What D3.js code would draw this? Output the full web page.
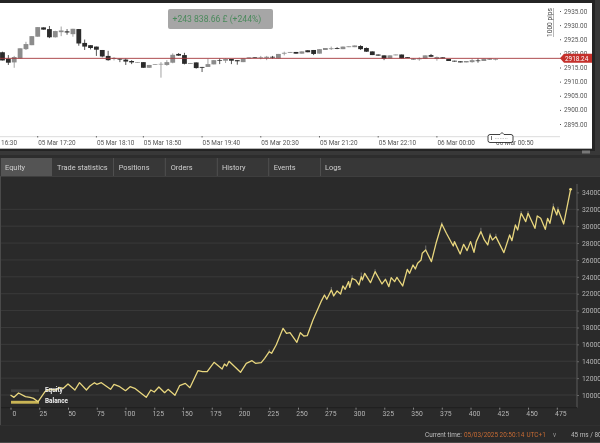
<!DOCTYPE html>
<html>
<head>
<meta charset="utf-8">
<script src="https://cdnjs.cloudflare.com/ajax/libs/d3/7.8.5/d3.min.js"></script>
<style>
  html, body { margin: 0; padding: 0; background: #2a2a2a; overflow: hidden; }
  svg { display: block; font-family: Roboto, sans-serif; filter: blur(0.35px); }
</style>
</head>
<body>
<script>
"use strict";

// candles, first one is index -6 (5 min bars)
let candleOpen = [2920.4,2918.1,2916.8,2918.2,2921.5,2922.9,2925.9,2929.2,2928.6,2925.7,2927.5,2927.8,2926.8,2928.6,2923.7,2922.9,2922.4,2921.2,2919.1,2918.0,2918.1,2917.8,2917.3,2916.7,2916.9,2914.9,2916.0,2916.1,2915.9,2916.7,2919.8,2919.4,2916.3,2916.8,2915.2,2915.2,2916.1,2917.6,2917.4,2918.0,2917.6,2916.9,2918.2,2918.6,2918.5,2918.4,2918.8,2918.2,2919.9,2920.2,2920.5,2919.9,2921.1,2921.2,2919.9,2921.2,2921.5,2921.9,2921.5,2922.2,2922.2,2922.6,2921.9,2920.7,2919.6,2919.3,2918.2,2919.3,2919.6,2918.7,2918.1,2917.9,2918.1,2919.4,2918.0,2918.6,2918.0,2917.4,2917.2,2916.8,2916.9,2917.5,2917.3,2918.1,2917.8];
let candleClose = [2917.5,2916.7,2918.7,2921.8,2923.3,2926.1,2929.3,2928.4,2925.7,2927.9,2928.1,2927.4,2928.7,2923.5,2922.4,2921.9,2921.3,2918.9,2917.6,2918.4,2917.8,2917.1,2916.8,2916.9,2914.9,2915.9,2916.2,2916.3,2916.9,2919.5,2919.2,2916.3,2916.6,2914.8,2914.9,2916.2,2917.6,2917.4,2918.0,2917.4,2917.2,2918.2,2918.6,2918.4,2918.6,2918.8,2918.5,2919.8,2920.2,2920.5,2919.9,2920.7,2920.4,2919.8,2921.5,2921.9,2921.8,2921.6,2922.4,2922.5,2922.8,2921.5,2920.6,2919.4,2919.2,2918.1,2919.3,2919.6,2918.2,2918.4,2917.9,2918.2,2919.3,2918.8,2918.7,2918.2,2917.3,2917.1,2916.8,2917.3,2917.6,2917.3,2918.1,2917.9,2918.0];
let candleHigh = [2920.6,2919.4,2919.1,2921.8,2924.1,2926.1,2929.3,2929.2,2929.7,2928.0,2929.5,2928.6,2928.7,2928.6,2924.9,2922.9,2922.4,2921.2,2920.9,2918.7,2918.1,2918.2,2917.6,2916.9,2916.9,2915.9,2916.2,2916.9,2917.6,2920.0,2920.1,2920.2,2916.6,2916.8,2915.2,2918.1,2917.6,2918.2,2918.2,2918.0,2917.6,2918.2,2918.6,2918.6,2919.1,2919.1,2919.1,2919.8,2920.6,2920.5,2920.5,2920.7,2921.1,2921.2,2921.5,2921.9,2922.4,2922.2,2922.4,2922.5,2922.8,2922.9,2922.1,2920.7,2919.6,2919.3,2919.3,2919.6,2919.6,2918.7,2918.1,2918.6,2919.3,2919.8,2918.9,2918.6,2918.0,2917.4,2917.2,2917.3,2918.1,2918.2,2918.1,2918.1,2918.1];
let candleLow = [2917.5,2915.9,2914.9,2918.2,2921.2,2922.9,2925.9,2928.4,2925.4,2925.6,2926.1,2926.6,2925.9,2922.7,2921.2,2921.4,2919.1,2918.6,2917.4,2917.5,2916.9,2915.9,2916.2,2916.7,2914.9,2914.9,2916.0,2911.4,2915.6,2916.5,2919.1,2916.1,2916.3,2914.6,2913.4,2915.2,2916.1,2916.2,2916.6,2916.2,2916.0,2916.9,2918.2,2918.4,2917.9,2917.6,2918.1,2918.2,2919.3,2920.2,2919.9,2919.9,2920.4,2919.4,2919.9,2921.2,2921.2,2921.5,2921.5,2922.2,2922.2,2921.2,2920.5,2919.4,2919.2,2917.6,2918.2,2919.3,2918.2,2918.4,2917.9,2917.4,2918.1,2918.7,2917.4,2918.2,2917.3,2917.1,2916.8,2916.8,2916.7,2916.7,2917.3,2917.9,2917.5];
let candleFirst = -6;

let priceTicks = [2935, 2930, 2925, 2920, 2915, 2910, 2905, 2900, 2895];
let timeTickIdx = [-10, 0, 10, 18, 28, 38, 48, 58, 68, 78];
let timeTickLabels = ["05 Mar 16:30", "05 Mar 17:20", "05 Mar 18:10", "05 Mar 18:50", "05 Mar 19:40", "05 Mar 20:30", "05 Mar 21:20", "05 Mar 22:10", "06 Mar 00:00", "06 Mar 00:50"];
let currentPrice = 2918.24;

let tabNames = ["Equity", "Trade statistics", "Positions", "Orders", "History", "Events", "Logs"];

// balance curve, read by trade number
let tradeIdx = [0,3,7,13,17,20,24,30,34,40,42,46,50,56,60,66,69,73,75,79,87,90,95,100,104,108,118,122,125,129,134,137,143,147,152,156,163,167,171,177,184,186,188,190,200,205,210,213,218,221,225,227,231,237,240,243,249,252,255,258,263,270,273,275,279,281,284,287,289,291,294,295,297,300,303,305,306,308,313,317,323,326,329,331,334,336,338,341,345,347,350,352,354,357,358,361,366,370,375,379,385,386,391,394,397,400,403,405,409,412,415,417,419,422,429,434,436,439,441,444,448,450,456,458,461,465,467,469,472,475,476,481,487];
let balance = [10000,9723,10237,9800,9723,9600,9210,10395,10670,10590,10900,10790,11300,10590,11460,10590,11066,11460,11263,11460,10670,11263,10987,10513,10987,10790,9723,10590,10355,10947,10276,10670,9960,11105,11380,10870,12883,12765,12765,13870,13080,13673,13436,13990,12685,13756,14065,13756,13830,14349,15131,14937,15925,17900,17311,17384,16245,17384,16990,17030,18887,21060,21850,21336,22442,21731,22323,21968,22916,22521,23430,22758,23825,23627,23035,24022,23627,24417,23311,24615,23153,23706,22837,23904,23430,23943,23509,22916,24891,24417,25404,24931,25602,25997,26787,27182,25800,27972,30263,29157,27656,28170,26708,27853,27103,28170,26905,28170,29355,28367,27774,28960,28367,28762,26866,28960,28288,30145,29552,31527,30540,31527,29750,31211,30935,29631,30935,30342,32317,31330,32000,30263,34371];

// equity runs just above balance at the peaks
let equityPeakIdx = [225,279,297,305,317,361,375,409,417,422,444,450,472,476];
let equityPeak = [15400,22800,24200,24500,24900,27700,30500,29800,29200,29100,31800,31800,32700,32300];

let equityTicks = [10000,12000,14000,16000,18000,20000,22000,24000,26000,28000,30000,32000,34000];
let gridValues = [10000,12000,14000,16000,18000,20000,22000,24000,26000,28000,30000,32000];
let tradeTicks = [0,25,50,75,100,125,150,175,200,225,250,275,300,325,350,375,400,425,450,475];

let width = 600;
let height = 443;

let svg = d3.select("body").append("svg").attr("width", width).attr("height", height);

// page blocks
svg.append("rect").attr("width", width).attr("height", height).attr("fill", "#2a2a2a");
svg.append("rect").attr("x", 0).attr("y", 0).attr("width", width).attr("height", 155).attr("fill", "#383838");
svg.append("rect").attr("x", 0).attr("y", 0).attr("width", 595).attr("height", 151).attr("fill", "#242424");
svg.append("rect").attr("x", 0).attr("y", 3).attr("width", 592).attr("height", 146).attr("fill", "#fff");
svg.append("rect").attr("x", 0).attr("y", 148).attr("width", 592).attr("height", 1).attr("fill", "#b5b5b5");
svg.append("rect").attr("x", 582).attr("y", 150.5).attr("width", 8).attr("height", 3).attr("fill", "#777");
svg.append("rect").attr("x", 0).attr("y", 155).attr("width", width).attr("height", 3).attr("fill", "#2d2d2d");
svg.append("rect").attr("x", 0).attr("y", 158).attr("width", width).attr("height", 18).attr("fill", "#373737");
svg.append("rect").attr("x", 0).attr("y", 176).attr("width", width).attr("height", 0.8).attr("fill", "#444");
svg.append("rect").attr("x", 0).attr("y", 176).attr("width", 1).attr("height", 249).attr("fill", "#4a4a4a");
svg.append("rect").attr("x", 0).attr("y", 442).attr("width", width).attr("height", 1).attr("fill", "#4a4a4a");

// ---- candle chart
let clip = svg.append("clipPath").attr("id", "top-clip");
clip.append("rect").attr("x", 0).attr("y", 3).attr("width", 592).attr("height", 145);

let topG = svg.append("g").attr("clip-path", "url(#top-clip)");

let xTime = d3.scaleLinear().domain([0, 78]).range([37.7, 495.6]);
let yPrice = d3.scaleLinear().domain([2895, 2935]).range([124, 11]);

topG.append("line")
  .attr("x1", 0).attr("x2", 560)
  .attr("y1", 136.7).attr("y2", 136.7)
  .attr("stroke", "#dcdcdc");

let candleData = candleOpen.map(function (d, i) {
  return { i: i + candleFirst, o: d, c: candleClose[i], h: candleHigh[i], l: candleLow[i] };
});

let candleColor = function (d) { return d.c >= d.o ? "#8c8c8c" : "#2b2b2b"; };

topG.selectAll(".wick")
  .data(candleData)
  .enter()
  .append("line")
    .attr("class", "wick")
    .attr("x1", function (d) { return xTime(d.i); })
    .attr("x2", function (d) { return xTime(d.i); })
    .attr("y1", function (d) { return yPrice(d.h); })
    .attr("y2", function (d) { return yPrice(d.l); })
    .attr("stroke", candleColor)
    .attr("stroke-width", 0.8);

topG.selectAll(".body")
  .data(candleData)
  .enter()
  .append("rect")
    .attr("class", "body")
    .attr("x", function (d) { return xTime(d.i) - 2.4; })
    .attr("width", 4.8)
    .attr("y", function (d) { return yPrice(Math.max(d.o, d.c)); })
    .attr("height", function (d) { return Math.max(0.7, Math.abs(yPrice(d.o) - yPrice(d.c))); })
    .attr("fill", candleColor);

topG.append("line")
  .attr("x1", 0).attr("x2", 562)
  .attr("y1", yPrice(currentPrice)).attr("y2", yPrice(currentPrice))
  .attr("stroke", "#a5383c")
  .attr("stroke-width", 0.9);

// price axis
let priceAxis = d3.axisRight(yPrice).tickValues(priceTicks).tickSize(1).tickPadding(3)
  .tickFormat(d3.format(".2f"));
let priceG = topG.append("g").attr("transform", "translate(560,0)").call(priceAxis);
priceG.select(".domain").remove();
priceG.selectAll("line").attr("stroke", "#555");
priceG.selectAll("text").attr("fill", "#555").style("font-size", "6.4px").style("font-family", "Roboto");

// time axis
let timeAxis = d3.axisBottom(xTime).tickValues(timeTickIdx).tickSize(0).tickPadding(3)
  .tickFormat(function (d, i) { return timeTickLabels[i]; });
let timeG = topG.append("g").attr("transform", "translate(0,137)").call(timeAxis);
timeG.select(".domain").remove();
timeG.selectAll("text").attr("text-anchor", "start").attr("fill", "#555")
  .style("font-size", "6.4px").style("font-family", "Roboto");
topG.selectAll(".time-dot")
  .data(timeTickIdx)
  .enter()
  .append("line")
    .attr("x1", function (d) { return xTime(d); })
    .attr("x2", function (d) { return xTime(d); })
    .attr("y1", 136).attr("y2", 137.5)
    .attr("stroke", "#666");

// red price label
let labelY = yPrice(currentPrice);
topG.append("path")
  .attr("d", "M560," + labelY + "l4,-4.5h28v9h-28z")
  .attr("fill", "#c4302b");
topG.append("text")
  .attr("x", 565).attr("y", labelY + 2.3)
  .attr("fill", "#fff")
  .style("font-size", "6.4px")
  .text(currentPrice.toFixed(2));

// profit tooltip
topG.append("rect")
  .attr("x", 168).attr("y", 9).attr("width", 105).attr("height", 20).attr("rx", 2)
  .attr("fill", "#a6a6a6");
topG.append("text")
  .attr("x", 172.5).attr("y", 22)
  .attr("fill", "#4b8a5c")
  .style("font-size", "8.6px")
  .text("+243 838.66 £ (+244%)");

// 1000 pips marker
topG.append("text")
  .attr("transform", "translate(552,37) rotate(-90)")
  .attr("fill", "#444")
  .style("font-size", "6.6px")
  .text("1000 pips");
topG.append("line")
  .attr("x1", 553.5).attr("x2", 553.5).attr("y1", 8).attr("y2", 37)
  .attr("stroke", "#999").attr("stroke-width", 0.7);

// little cursor bubble on the time axis
topG.append("path")
  .attr("d", "M490,134.5h10l2,-2l2,2h7q2,0 2,2v4q0,2 -2,2h-21q-2,0 -2,-2v-4q0,-2 2,-2z")
  .attr("fill", "#fff").attr("stroke", "#111").attr("stroke-width", 0.8);
topG.append("line")
  .attr("x1", 491.5).attr("x2", 491.5).attr("y1", 136).attr("y2", 140)
  .attr("stroke", "#333").attr("stroke-width", 0.7);
topG.append("line")
  .attr("x1", 495).attr("x2", 508).attr("y1", 138.5).attr("y2", 138.5)
  .attr("stroke", "#bbb").attr("stroke-width", 0.7).attr("stroke-dasharray", "1.5,1");

// ---- tabs
let tabX = d3.scaleOrdinal().domain(tabNames).range([5, 57, 118.7, 170.7, 222, 273.7, 325]);
let tabSep = [113.5, 165.3, 217.3, 268.7, 320.5];

svg.append("rect").attr("x", 1).attr("y", 158).attr("width", 51).attr("height", 18).attr("fill", "#545454");
svg.selectAll(".tab-sep")
  .data(tabSep)
  .enter()
  .append("line")
    .attr("x1", function (d) { return d; })
    .attr("x2", function (d) { return d; })
    .attr("y1", 158).attr("y2", 176)
    .attr("stroke", "#555").attr("stroke-width", 0.8);
svg.selectAll(".tab")
  .data(tabNames)
  .enter()
  .append("text")
    .attr("x", function (d) { return tabX(d); })
    .attr("y", 170)
    .attr("fill", "#d0d0d0")
    .style("font-size", "7.4px")
    .text(function (d) { return d; });

// ---- equity chart
let xTrade = d3.scaleLinear().domain([0, 475]).range([10.5, 556.8]);
let yEquity = d3.scaleLinear().domain([10000, 32000]).range([395, 209.3]);

svg.selectAll(".grid")
  .data(gridValues)
  .enter()
  .append("line")
    .attr("x1", 1).attr("x2", 577)
    .attr("y1", function (d) { return yEquity(d); })
    .attr("y2", function (d) { return yEquity(d); })
    .attr("stroke", "#3a3a3a");

let rightAxis = d3.axisRight(yEquity).tickValues(equityTicks).tickSize(2).tickPadding(3)
  .tickFormat(d3.format("d"));
let rightG = svg.append("g").attr("transform", "translate(577,0)").call(rightAxis);
rightG.select(".domain").attr("d", "M0,184V407.7").attr("stroke", "#5a5a5a");
rightG.selectAll("line").attr("stroke", "#666");
rightG.selectAll("text").attr("fill", "#b5b5b5").style("font-size", "6.8px").style("font-family", "Roboto");

let bottomAxis = d3.axisBottom(xTrade).tickValues(tradeTicks).tickSize(2).tickPadding(1.5)
  .tickFormat(d3.format("d"));
let bottomG = svg.append("g").attr("transform", "translate(0,407.7)").call(bottomAxis);
bottomG.select(".domain").attr("d", "M1,0H577").attr("stroke", "#1e1e1e");
bottomG.selectAll("line").attr("stroke", "#888");
bottomG.selectAll("text").attr("dx", 3.5).attr("fill", "#b5b5b5").style("font-size", "6.8px").style("font-family", "Roboto");

// equity spikes sit under the balance line
let balanceAt = function (t) { return balance[d3.bisectLeft(tradeIdx, t)]; };
svg.selectAll(".spike")
  .data(equityPeakIdx)
  .enter()
  .append("line")
    .attr("x1", function (d) { return xTrade(d); })
    .attr("x2", function (d) { return xTrade(d); })
    .attr("y1", function (d) { return yEquity(balanceAt(d)); })
    .attr("y2", function (d, i) { return yEquity(equityPeak[i]); })
    .attr("stroke", "#666")
    .attr("stroke-width", 1.2);

// legend swatches go below the curve
svg.append("rect").attr("x", 11).attr("y", 389.3).attr("width", 28).attr("height", 2.8).attr("fill", "#3f3f3f");
svg.append("rect").attr("x", 11).attr("y", 400.8).attr("width", 28).attr("height", 2.9).attr("fill", "#c9b455");

let line = d3.line()
  .x(function (d, i) { return xTrade(tradeIdx[i]); })
  .y(function (d) { return yEquity(d); });

svg.append("path")
  .datum(balance)
  .attr("fill", "none")
  .attr("stroke", "#e8d67e")
  .attr("stroke-width", 1.3)
  .attr("stroke-linejoin", "round")
  .attr("d", line);

svg.append("circle")
  .attr("cx", xTrade(tradeIdx[tradeIdx.length - 1]))
  .attr("cy", yEquity(balance[balance.length - 1]))
  .attr("r", 1.4)
  .attr("fill", "#e8d67e");

svg.append("text").attr("x", 45).attr("y", 391.5).attr("fill", "#eee")
  .style("font-size", "6.4px").style("font-weight", "700").text("Equity");
svg.append("text").attr("x", 45).attr("y", 402.5).attr("fill", "#eee")
  .style("font-size", "6.4px").style("font-weight", "700").text("Balance");

// ---- status bar
svg.append("rect").attr("x", 0).attr("y", 425).attr("width", width).attr("height", 1).attr("fill", "#303030");
svg.append("text").attr("x", 425).attr("y", 436.5).attr("fill", "#bdbdbd")
  .style("font-size", "6.4px").text("Current time:");
svg.append("text").attr("x", 464).attr("y", 436.5).attr("fill", "#c76b34")
  .style("font-size", "6.4px").text("05/03/2025 20:50:14");
svg.append("text").attr("x", 526.5).attr("y", 436.5).attr("fill", "#c76b34")
  .style("font-size", "6.4px").text("UTC+1");
svg.append("text").attr("x", 553).attr("y", 436.5).attr("fill", "#999")
  .style("font-size", "6.4px").text("v");
svg.append("text").attr("x", 571).attr("y", 436.5).attr("fill", "#bdbdbd")
  .style("font-size", "6.4px").text("45 ms / 80 ms");
</script>
</body>
</html>
